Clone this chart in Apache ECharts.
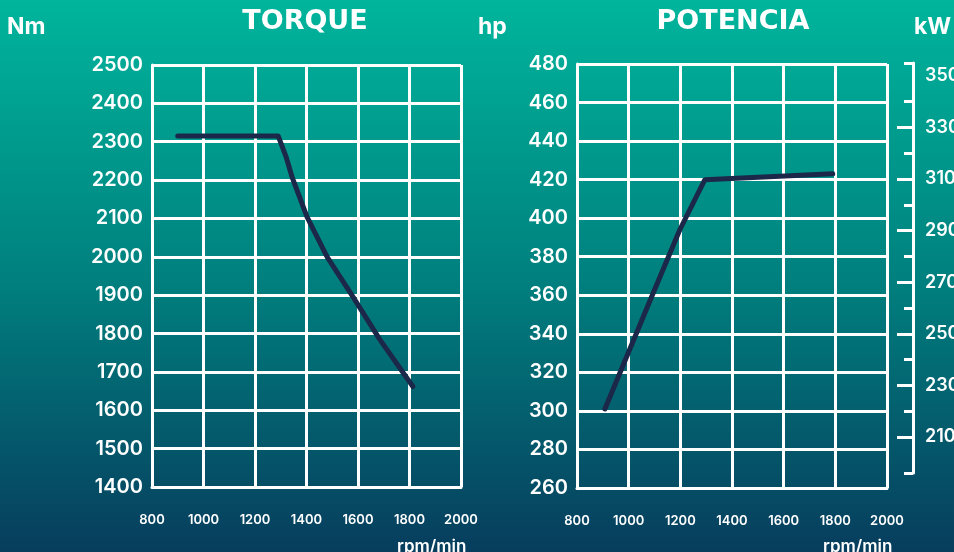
<!DOCTYPE html>
<html>
<head>
<meta charset="utf-8">
<title>Torque / Potencia</title>
<script src="https://cdn.jsdelivr.net/npm/echarts@6/dist/echarts.min.js"></script>
<style>
  html, body { margin: 0; padding: 0; }
  #chart { width: 954px; height: 552px; }
</style>
</head>
<body>
<div id="chart"></div>
<script>
// rpm ticks shared by both charts
const rpmTicks = [800, 1000, 1200, 1400, 1600, 1800, 2000]

// torque curve (Nm)
const torqueRpm = [900, 1290, 1320, 1344, 1402, 1480, 1580, 1685, 1813]
const torqueNm = [2315, 2315, 2262, 2208, 2104, 2000, 1896, 1784, 1662]

// power curve (hp)
const powerRpm = [908, 1082, 1198, 1295, 1790]
const powerHp = [301, 357, 394, 420, 423]

// kW scale on the right
const kwLabels = [210, 230, 250, 270, 290, 310, 330, 350]
const kwLongTicks = [210, 230, 250, 270, 290, 310, 330]
const kwShortTicks = [196, 220, 240, 260, 280, 300, 320, 340, 355]

const white = '#ffffff'
const navy = '#1b2849'
const font = 'Inter, "DejaVu Sans", sans-serif'
const plain = (v) => String(v)

const chart = echarts.init(document.getElementById('chart'))

const rpmAxis = (gridIndex) => ({
  type: 'value',
  gridIndex: gridIndex,
  min: 800,
  max: 2000,
  interval: 200,
  axisLine: {show: true, lineStyle: {color: white, width: 3}},
  axisTick: {show: false},
  splitLine: {show: true, lineStyle: {color: white, width: 3}},
  axisLabel: {
    color: white, fontSize: 13, fontWeight: 600, fontFamily: font, margin: 27,
    formatter: plain
  }
})

const valueAxis = (gridIndex, min, max, interval) => ({
  type: 'value',
  gridIndex: gridIndex,
  min: min,
  max: max,
  interval: interval,
  axisLine: {show: true, lineStyle: {color: white, width: 3}},
  axisTick: {show: false},
  splitLine: {show: true, lineStyle: {color: white, width: 3}},
  axisLabel: {color: white, fontSize: 20, fontWeight: 600, fontFamily: font, margin: 9, formatter: plain}
})

let option = {
  backgroundColor: new echarts.graphic.LinearGradient(0, 0, 0, 1, [
    {offset: 0, color: '#00b59c'},
    {offset: 0.5, color: '#00817f'},
    {offset: 1, color: '#073d5d'}
  ]),
  animation: false,
  title: [
    {
      text: 'TORQUE', left: 300, top: 3, textAlign: 'center',
      textStyle: {color: white, fontSize: 27, fontWeight: 'bold', fontFamily: '"DejaVu Sans", sans-serif'}
    },
    {
      text: 'POTENCIA', left: 728, top: 3, textAlign: 'center',
      textStyle: {color: white, fontSize: 27, fontWeight: 'bold', fontFamily: '"DejaVu Sans", sans-serif'}
    }
  ],
  graphic: [
    {type: 'text', left: 7, top: 16, style: {text: 'Nm', fill: white, font: '700 23px ' + font}},
    {type: 'text', left: 478, top: 16, style: {text: 'hp', fill: white, font: '700 23px ' + font}},
    {type: 'text', left: 914, top: 16, style: {text: 'kW', fill: white, font: '700 23px ' + font}},
    {type: 'text', left: 397, top: 538, style: {text: 'rpm/min', fill: white, font: '600 17px ' + font}},
    {type: 'text', left: 823, top: 538, style: {text: 'rpm/min', fill: white, font: '600 17px ' + font}}
  ],
  // outerBoundsMode none: keep the grids where they are even if labels run off the canvas
  grid: [
    {left: 152, right: 493, top: 65, bottom: 65, outerBoundsMode: 'none'},
    {left: 577, right: 67, top: 64, bottom: 64, outerBoundsMode: 'none'},
    {left: 600, right: 41, top: 63, bottom: 79, outerBoundsMode: 'none'},
    {left: 600, right: 41, top: 63, bottom: 79, outerBoundsMode: 'none'}
  ],
  xAxis: [
    rpmAxis(0),
    rpmAxis(1),
    {type: 'value', gridIndex: 2, show: false},
    {type: 'value', gridIndex: 3, show: false}
  ],
  yAxis: [
    valueAxis(0, 1400, 2500, 100),
    valueAxis(1, 260, 480, 20),
    {
      type: 'value', gridIndex: 2, position: 'right', min: 196, max: 355,
      axisLine: {show: true, onZero: false, lineStyle: {color: white, width: 3}},
      splitLine: {show: false},
      axisTick: {show: true, inside: true, length: 16, lineStyle: {color: white, width: 3}, customValues: kwLongTicks},
      axisLabel: {color: white, fontSize: 18, fontWeight: 600, fontFamily: font, margin: 12, customValues: kwLabels}
    },
    {
      type: 'value', gridIndex: 3, position: 'right', min: 196, max: 355,
      axisLine: {show: false, onZero: false},
      splitLine: {show: false},
      axisTick: {show: true, inside: true, length: 9, lineStyle: {color: white, width: 3}, customValues: kwShortTicks},
      axisLabel: {show: false}
    }
  ],
  series: [
    {
      name: 'Torque',
      type: 'line',
      xAxisIndex: 0,
      yAxisIndex: 0,
      showSymbol: false,
      data: torqueRpm.map((r, i) => [r, torqueNm[i]]),
      lineStyle: {color: navy, width: 5, cap: 'round', join: 'round'}
    },
    {
      name: 'Potencia',
      type: 'line',
      xAxisIndex: 1,
      yAxisIndex: 1,
      showSymbol: false,
      data: powerRpm.map((r, i) => [r, powerHp[i]]),
      lineStyle: {color: navy, width: 5, cap: 'round', join: 'round'}
    }
  ]
}

chart.setOption(option)
</script>
</body>
</html>
